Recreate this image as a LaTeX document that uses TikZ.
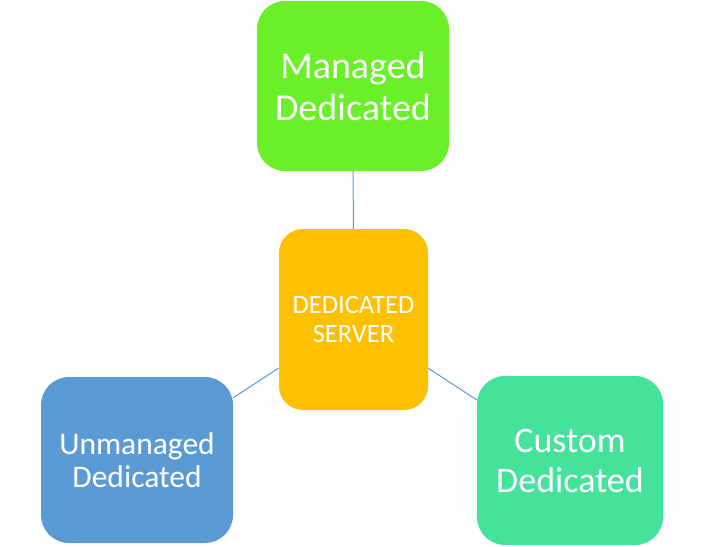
\documentclass[tikz,border=0pt]{standalone}
\usepackage{fontspec}
\setmainfont{Carlito}
\definecolor{mgreen}{RGB}{106,240,40}
\definecolor{corange}{RGB}{255,192,0}
\definecolor{ublue}{RGB}{91,155,213}
\definecolor{cgreen}{RGB}{68,226,154}
\definecolor{linkblue}{RGB}{91,155,213}
\begin{document}
\begin{tikzpicture}[x=1pt,y=-1pt,
  box/.style={rectangle, rounded corners=28pt, inner sep=0pt, align=center, text=white},
  link/.style={draw=linkblue, line width=1pt}]
\useasboundingbox (0,0) rectangle (703,546);
\node[box, fill=mgreen, minimum width=192pt, minimum height=170pt,
  font=\fontsize{38}{42}\selectfont] (m) at (353,86) {Managed\\Dedicated};
\node[box, fill=corange, minimum width=149pt, minimum height=181pt, rounded corners=24pt,
  font=\fontsize{26.5}{28.5}\selectfont] (c) at (353.5,319.5) {DEDICATED\\SERVER};
\node[box, fill=ublue, minimum width=192pt, minimum height=166pt,
  font=\fontsize{31.5}{33.5}\selectfont] (u) at (137,460) {Unmanaged\\Dedicated};
\node[box, fill=cgreen, minimum width=186pt, minimum height=169pt,
  font=\fontsize{36}{40}\selectfont] (cu) at (570,460.5) {Custom\\Dedicated};
\draw[link] (c) -- (m);
\draw[link] (c) -- (u);
\draw[link] (c) -- (cu);
\end{tikzpicture}
\end{document}
